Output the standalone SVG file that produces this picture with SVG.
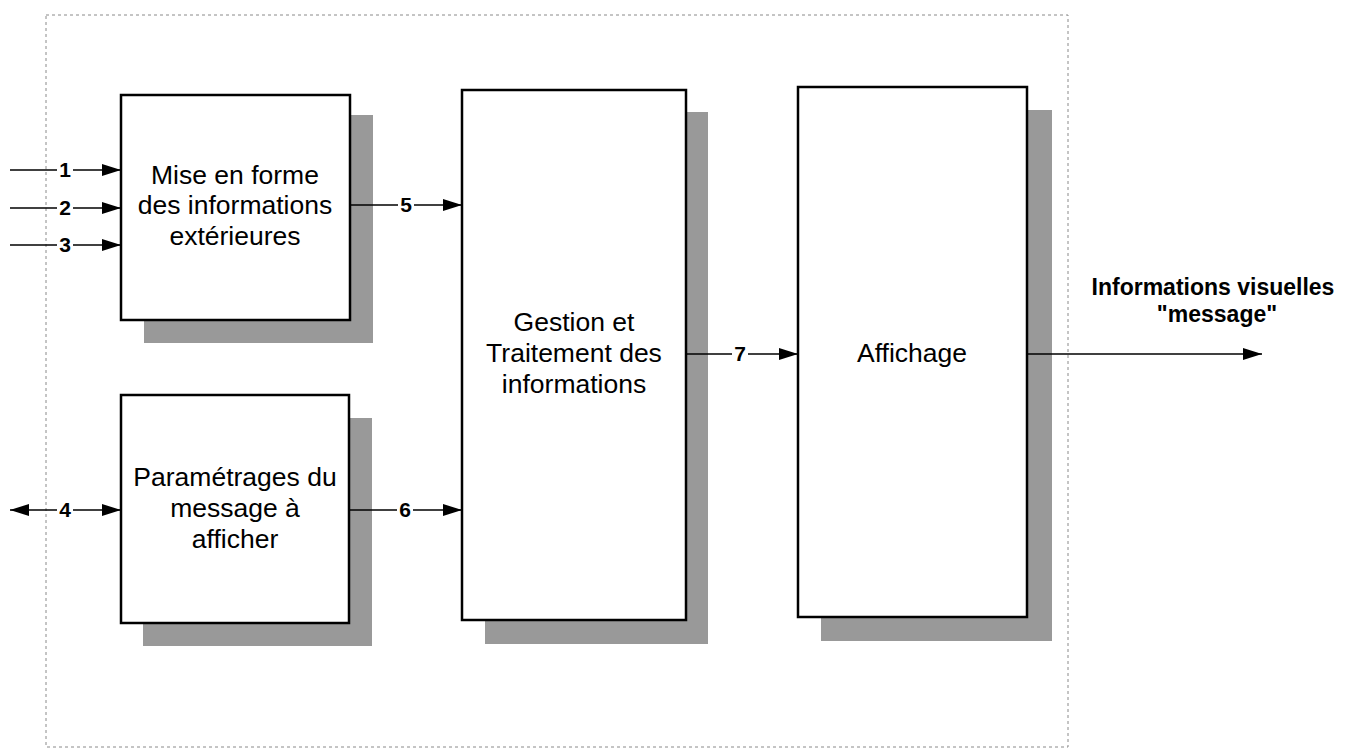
<svg xmlns="http://www.w3.org/2000/svg" width="1352" height="756" viewBox="0 0 1352 756">
<style>
.frame{fill:none;stroke:#8a8a8a;stroke-width:1;stroke-dasharray:3 3}
.shadow{fill:#999}
.box{fill:#fff;stroke:#000;stroke-width:2.5}
.t{font-family:"Liberation Sans",Arial,sans-serif;font-size:26.5px;fill:#000;text-anchor:middle}
.n{font-family:"Liberation Sans",Arial,sans-serif;font-size:21px;font-weight:bold;fill:#000;text-anchor:middle}
.b{font-family:"Liberation Sans",Arial,sans-serif;font-size:23px;font-weight:bold;fill:#000;text-anchor:middle}
.c{fill:none;stroke:#000;stroke-width:1.5}
</style>
<defs>
<marker id="ah" viewBox="0 0 19 12" refX="19" refY="6" markerWidth="19" markerHeight="12" markerUnits="userSpaceOnUse" orient="auto">
<path d="M0,0 L19,6 L0,12 Z" fill="#000"/>
</marker>
<marker id="ahs" viewBox="0 0 19 12" refX="0" refY="6" markerWidth="19" markerHeight="12" markerUnits="userSpaceOnUse" orient="auto">
<path d="M19,0 L0,6 L19,12 Z" fill="#000"/>
</marker>
</defs>
<rect class="frame" x="46" y="15" width="1022" height="732"/>
<g id="node-mise-en-forme">
<rect class="shadow" x="144" y="115" width="229" height="228"/>
<rect class="box" x="121" y="95" width="229" height="225"/>
<text class="t" x="235" y="184">Mise en forme</text>
<text class="t" x="235" y="214">des informations</text>
<text class="t" x="235" y="245">extérieures</text>
</g>
<g id="node-parametrages">
<rect class="shadow" x="143" y="418" width="229" height="228"/>
<rect class="box" x="121" y="395" width="228" height="228"/>
<text class="t" x="235" y="486">Paramétrages du</text>
<text class="t" x="235" y="517">message à</text>
<text class="t" x="235" y="548">afficher</text>
</g>
<g id="node-gestion">
<rect class="shadow" x="485" y="112" width="223" height="532"/>
<rect class="box" x="462" y="90" width="224" height="530"/>
<text class="t" x="574" y="331">Gestion et</text>
<text class="t" x="574" y="362">Traitement des</text>
<text class="t" x="574" y="393">informations</text>
</g>
<g id="node-affichage">
<rect class="shadow" x="821" y="110" width="231" height="531"/>
<rect class="box" x="798" y="87" width="229" height="530"/>
<text class="t" x="912" y="362">Affichage</text>
</g>
<g id="output-label">
<text class="b" x="1213" y="295">Informations visuelles</text>
<text class="b" x="1217" y="322">"message"</text>
</g>
<g id="connectors">
<line class="c" x1="10" y1="170" x2="57" y2="170"/>
<line class="c" x1="73" y1="170" x2="121" y2="170" marker-end="url(#ah)"/>
<text class="n" x="65" y="177">1</text>
<line class="c" x1="10" y1="208" x2="57" y2="208"/>
<line class="c" x1="73" y1="208" x2="121" y2="208" marker-end="url(#ah)"/>
<text class="n" x="65" y="215">2</text>
<line class="c" x1="10" y1="245" x2="57" y2="245"/>
<line class="c" x1="73" y1="245" x2="121" y2="245" marker-end="url(#ah)"/>
<text class="n" x="65" y="252">3</text>
<line class="c" x1="10" y1="510" x2="57" y2="510" marker-start="url(#ahs)"/>
<line class="c" x1="73" y1="510" x2="121" y2="510" marker-end="url(#ah)"/>
<text class="n" x="65" y="517">4</text>
<line class="c" x1="350" y1="205" x2="398" y2="205"/>
<line class="c" x1="414" y1="205" x2="462" y2="205" marker-end="url(#ah)"/>
<text class="n" x="406" y="212">5</text>
<line class="c" x1="349" y1="510" x2="397" y2="510"/>
<line class="c" x1="413" y1="510" x2="462" y2="510" marker-end="url(#ah)"/>
<text class="n" x="405" y="517">6</text>
<line class="c" x1="686" y1="354" x2="732" y2="354"/>
<line class="c" x1="748" y1="354" x2="798" y2="354" marker-end="url(#ah)"/>
<text class="n" x="740" y="361">7</text>
<line class="c" x1="1027" y1="354" x2="1262" y2="354" marker-end="url(#ah)"/>
</g>
</svg>
